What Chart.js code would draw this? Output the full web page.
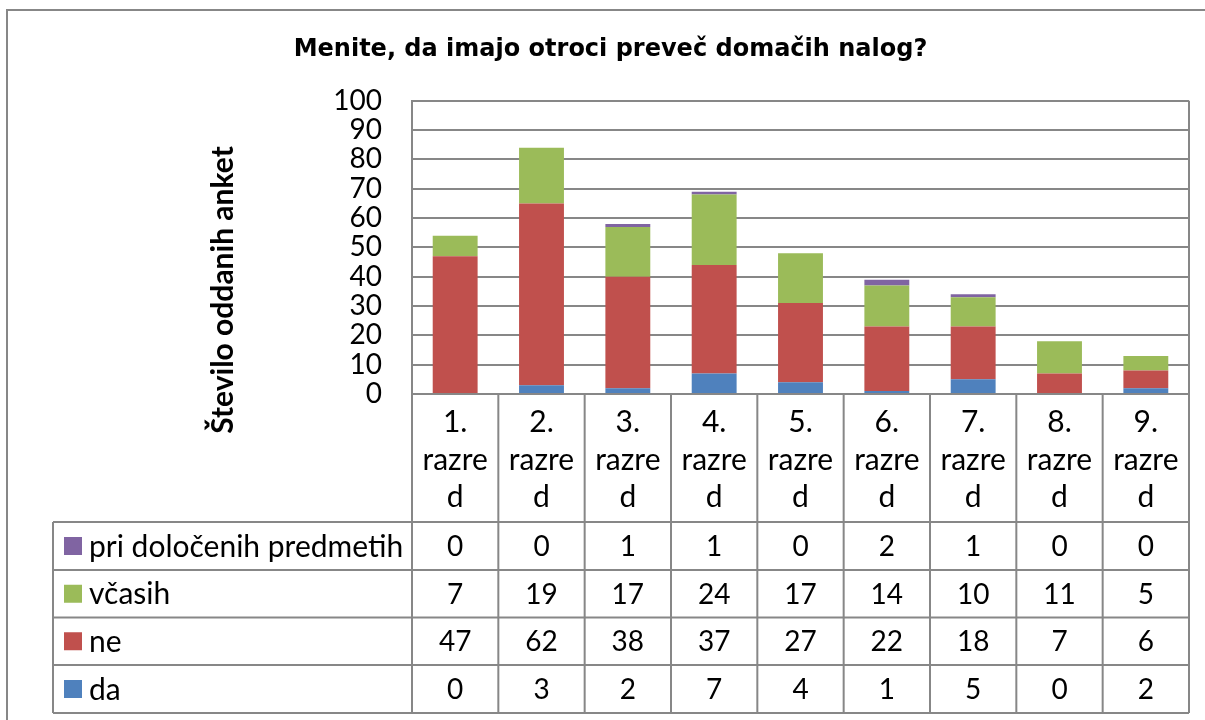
<!DOCTYPE html>
<html>
<head>
<meta charset="utf-8">
<script src="https://cdn.jsdelivr.net/npm/chart.js@4.4.1/dist/chart.umd.min.js"></script>
<style>
  html, body { margin: 0; padding: 0; background: #fff; }
  canvas { display: block; }
</style>
</head>
<body>
<canvas id="chart" width="1205" height="720"></canvas>
<script>
// ── Data ────────────────────────────────────────────────
const categories = [
  ["1.", "razre", "d"], ["2.", "razre", "d"], ["3.", "razre", "d"],
  ["4.", "razre", "d"], ["5.", "razre", "d"], ["6.", "razre", "d"],
  ["7.", "razre", "d"], ["8.", "razre", "d"], ["9.", "razre", "d"]
];
const da           = [0, 3, 2, 7, 4, 1, 5, 0, 2];
const ne           = [47, 62, 38, 37, 27, 22, 18, 7, 6];
const vcasih       = [7, 19, 17, 24, 17, 14, 10, 11, 5];
const priDolocenih = [0, 0, 1, 1, 0, 2, 1, 0, 0];
const yMin = 0, yMax = 100, yStep = 10;

const chartTitle = "Menite, da imajo otroci preveč domačih nalog?";
const yTitle     = "Število oddanih anket";

// ── Look ────────────────────────────────────────────────
const GRID  = "#878787";
const FONT  = "Lato";
const WORDS = 30;   // text size for words
const NUMS  = 28;   // text size for numbers
const PAD_L = 32;   // left layout padding (centres the title like Excel)
const tableRows = [522, 570, 617.5, 665, 713];   // row lines of the data table

// ── Data table, frame and y title ───────────────────────
const tablePlugin = {
  id: "dataTable",
  afterDraw(chart) {
    const { ctx, chartArea: area, scales: { x } } = chart;
    const colW = x.width / categories.length;
    const bottom = tableRows[tableRows.length - 1];

    ctx.save();
    ctx.strokeStyle = GRID;
    ctx.lineWidth = 2;
    ctx.beginPath();
    // outer frame (left + top edges visible)
    ctx.moveTo(7, 720); ctx.lineTo(7, 10); ctx.lineTo(1205, 10);
    // right edge of plot + table
    ctx.moveTo(area.right, area.top); ctx.lineTo(area.right, bottom);
    // column separators
    categories.forEach((c, i) => {
      const left = x.getPixelForValue(i) - colW / 2;
      ctx.moveTo(left, area.bottom); ctx.lineTo(left, bottom);
    });
    // row lines + legend column edge
    tableRows.forEach(yy => { ctx.moveTo(53, yy); ctx.lineTo(area.right, yy); });
    ctx.moveTo(53, tableRows[0]); ctx.lineTo(53, bottom);
    ctx.stroke();

    // rows: top row is the last dataset
    const sets = chart.data.datasets.slice().reverse();
    ctx.textBaseline = "middle";
    sets.forEach((ds, r) => {
      const cy = (tableRows[r] + tableRows[r + 1]) / 2;
      ctx.fillStyle = ds.backgroundColor;
      ctx.fillRect(64, cy - 9, 18, 18);
      ctx.fillStyle = "#000";
      ctx.textAlign = "left";
      ctx.font = WORDS + "px " + FONT;
      ctx.fillText(ds.label, 89, cy + 1);
      ctx.textAlign = "center";
      ctx.font = NUMS + "px " + FONT;
      ds.data.forEach((v, i) => ctx.fillText(String(v), x.getPixelForValue(i), cy + 1));
    });

    // rotated y axis title
    ctx.translate(223, 290);
    ctx.rotate(-Math.PI / 2);
    ctx.font = "bold " + WORDS + "px " + FONT;
    ctx.textAlign = "center";
    ctx.fillText(yTitle, 0, 0);
    ctx.restore();
  }
};

// ── Chart ───────────────────────────────────────────────
new Chart(document.getElementById("chart"), {
  type: "bar",
  data: {
    labels: categories,
    datasets: [
      { label: "da",                      data: da,           backgroundColor: "#4F81BD" },
      { label: "ne",                      data: ne,           backgroundColor: "#C0504D" },
      { label: "včasih",                  data: vcasih,       backgroundColor: "#9BBB59" },
      { label: "pri določenih predmetih", data: priDolocenih, backgroundColor: "#8064A2" }
    ]
  },
  options: {
    responsive: false,
    animation: false,
    datasets: { bar: { categoryPercentage: 1, barPercentage: 0.52, borderWidth: 0 } },
    layout: { padding: { left: PAD_L, right: 16, top: 0, bottom: 0 } },
    scales: {
      x: {
        stacked: true,
        grid: { display: false },
        border: { display: true, color: GRID, width: 2 },
        ticks: {
          color: "#000",
          padding: 2,
          maxRotation: 0,
          autoSkip: false,
          font: { family: FONT, size: WORDS, lineHeight: 1.25 }
        },
        afterFit(scale) { scale.height = 720 - 394; }
      },
      y: {
        stacked: true,
        min: yMin,
        max: yMax,
        grid: { color: GRID, lineWidth: 2, drawTicks: false },
        border: { display: true, color: GRID, width: 2 },
        ticks: {
          stepSize: yStep,
          autoSkip: false,
          color: "#000",
          padding: 30,
          font: { family: FONT, size: NUMS, lineHeight: 0.9 }
        },
        afterFit(scale) { scale.width = 412 - PAD_L; }
      }
    },
    plugins: {
      legend: { display: false },
      tooltip: { enabled: false },
      title: {
        display: true,
        text: chartTitle,
        color: "#000",
        font: { family: "DejaVu Sans", size: 24, weight: "bold" },
        padding: { top: 35, bottom: 37 }
      }
    }
  },
  plugins: [tablePlugin]
});
</script>
</body>
</html>
